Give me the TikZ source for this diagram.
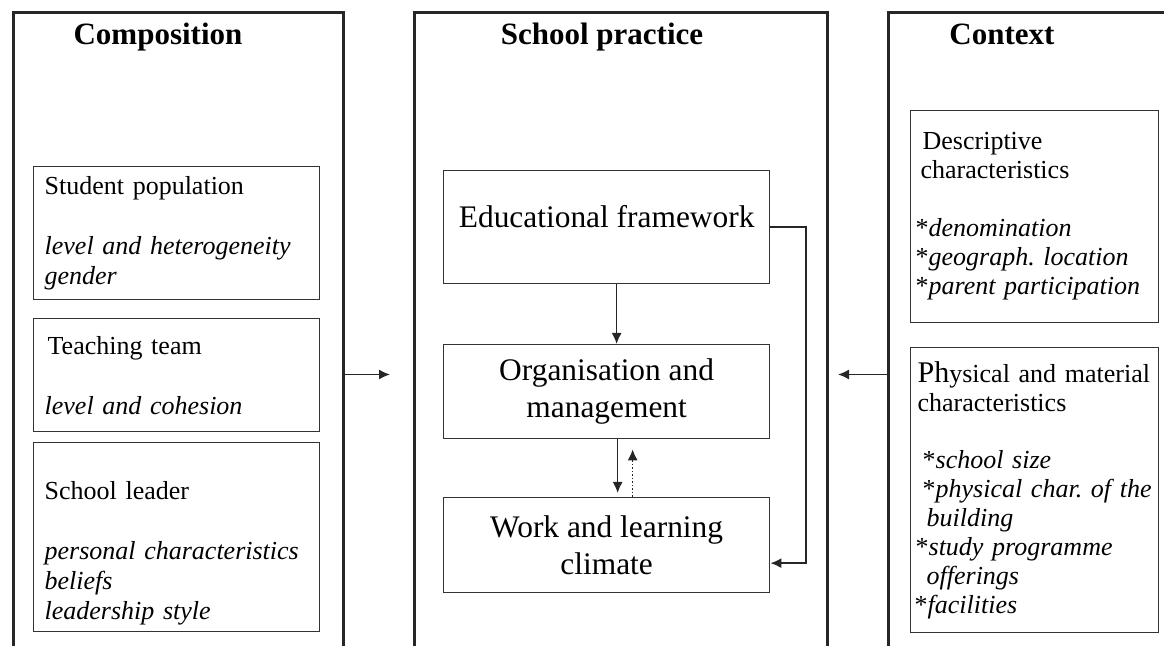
\documentclass[tikz,border=0pt]{standalone}
\usepackage{fontspec}
\setmainfont{Liberation Serif}
\usetikzlibrary{arrows.meta}
\frenchspacing

\begin{document}
\begin{tikzpicture}[
  x=0.5pt, y=-0.5pt,
  >={Latex[length=5.5pt,width=5pt]},
  frame/.style={draw=black!85, line width=1.5pt, anchor=north west, minimum height=362pt, inner sep=0pt},
  heading/.style={anchor=base, font=\fontsize{15.5}{18}\selectfont\bfseries},
  factor/.style={draw=black!80, line width=0.65pt, anchor=north west, align=left, inner xsep=5.5pt, inner ysep=2pt, text width=132pt, font=\fontsize{13}{15}\selectfont},
  feature/.style={factor, inner xsep=1pt, text width=122pt, font=\fontsize{13}{14.5}\selectfont},
  stage/.style={draw=black!80, line width=0.65pt, anchor=north west, align=center, minimum width=163pt, font=\fontsize{15.7}{18.5}\selectfont},
  link/.style={->, line width=0.75pt, black!85}
]
  % picture is measured in pixels of the 1164 x 646 original, y downwards
  \useasboundingbox (0,0) rectangle (1164,646);
  \clip (0,0) rectangle (1164,646);

  \node[frame, minimum width=165pt] (comp) at (12,11) {};
  \node[frame, minimum width=206.5pt] (prac) at (413,11) {};
  \node[frame, minimum width=160pt] (ctx) at (887,11) {};

  \node[heading] (comp head) at (158,45) {Composition};
  \node[heading] (prac head) at (602,45) {School practice};
  \node[heading] (ctx head) at (1002,45) {Context};

  % composition
  \node[factor, minimum height=66.5pt] (pop) at (33,166)
    {Student population\\[15pt]\textit{level and heterogeneity}\\\textit{gender}};
  \node[factor, minimum height=56.5pt] (team) at (33,318)
    {\hspace*{1.5pt}Teaching team\\[15pt]\textit{level and cohesion}};
  \node[factor, minimum height=94.5pt] (leader) at (33,442)
    {\strut\\School leader\\[15pt]\textit{personal characteristics}\\\textit{beliefs}\\\textit{leadership style}};

  % school practice
  \node[stage, minimum height=56.5pt, text height=8pt, text depth=8pt] (edu) at (443,170) {Educational framework};
  \node[stage, minimum height=47pt] (org) at (443,344) {Organisation and\\management};
  \node[stage, minimum height=47.5pt] (work) at (443,497) {Work and learning\\climate};

  % context
  \node[feature, minimum height=106pt] (desc) at (910,110)
    {\hspace*{5pt}Descriptive\\\hspace*{4pt}characteristics\\[14.5pt]\hspace*{1.5pt}{*}\textit{denomination}\\\hspace*{1.5pt}{*}\textit{geograph. location}\\\hspace*{1.5pt}{*}\textit{parent participation}};
  \node[feature, minimum height=142.5pt] (phys) at (910,347)
    {\hspace*{2.5pt}{\fontsize{15}{14}\selectfont Ph}ysical and material\\\hspace*{2.5pt}characteristics\\[14pt]\hspace*{5pt}{*}\textit{school size}\\\hspace*{5pt}{*}\textit{physical char. of the}\\\hspace*{7pt}\textit{building}\\\hspace*{1.5pt}{*}\textit{study programme}\\\hspace*{7pt}\textit{offerings}\\\hspace*{1pt}{*}\textit{facilities}};

  \draw[link] (comp.east) -- ([xshift=-11.5pt]prac.west);
  \draw[link] (ctx.west) -- ([xshift=4.5pt]prac.east);
  \draw[link] ([xshift=5pt]edu.south) -- ([xshift=5pt]org.north);
  \draw[link] ([xshift=5.5pt]org.south) -- ([xshift=5.5pt,yshift=2pt]work.north);
  \draw[link, densely dotted] ([xshift=13pt]work.north) -- ([xshift=13pt,yshift=-5pt]org.south);
  \draw[link, line width=1pt] (edu.east) -- ++(36,0) |- ([yshift=-9pt]work.east);
\end{tikzpicture}
\end{document}
